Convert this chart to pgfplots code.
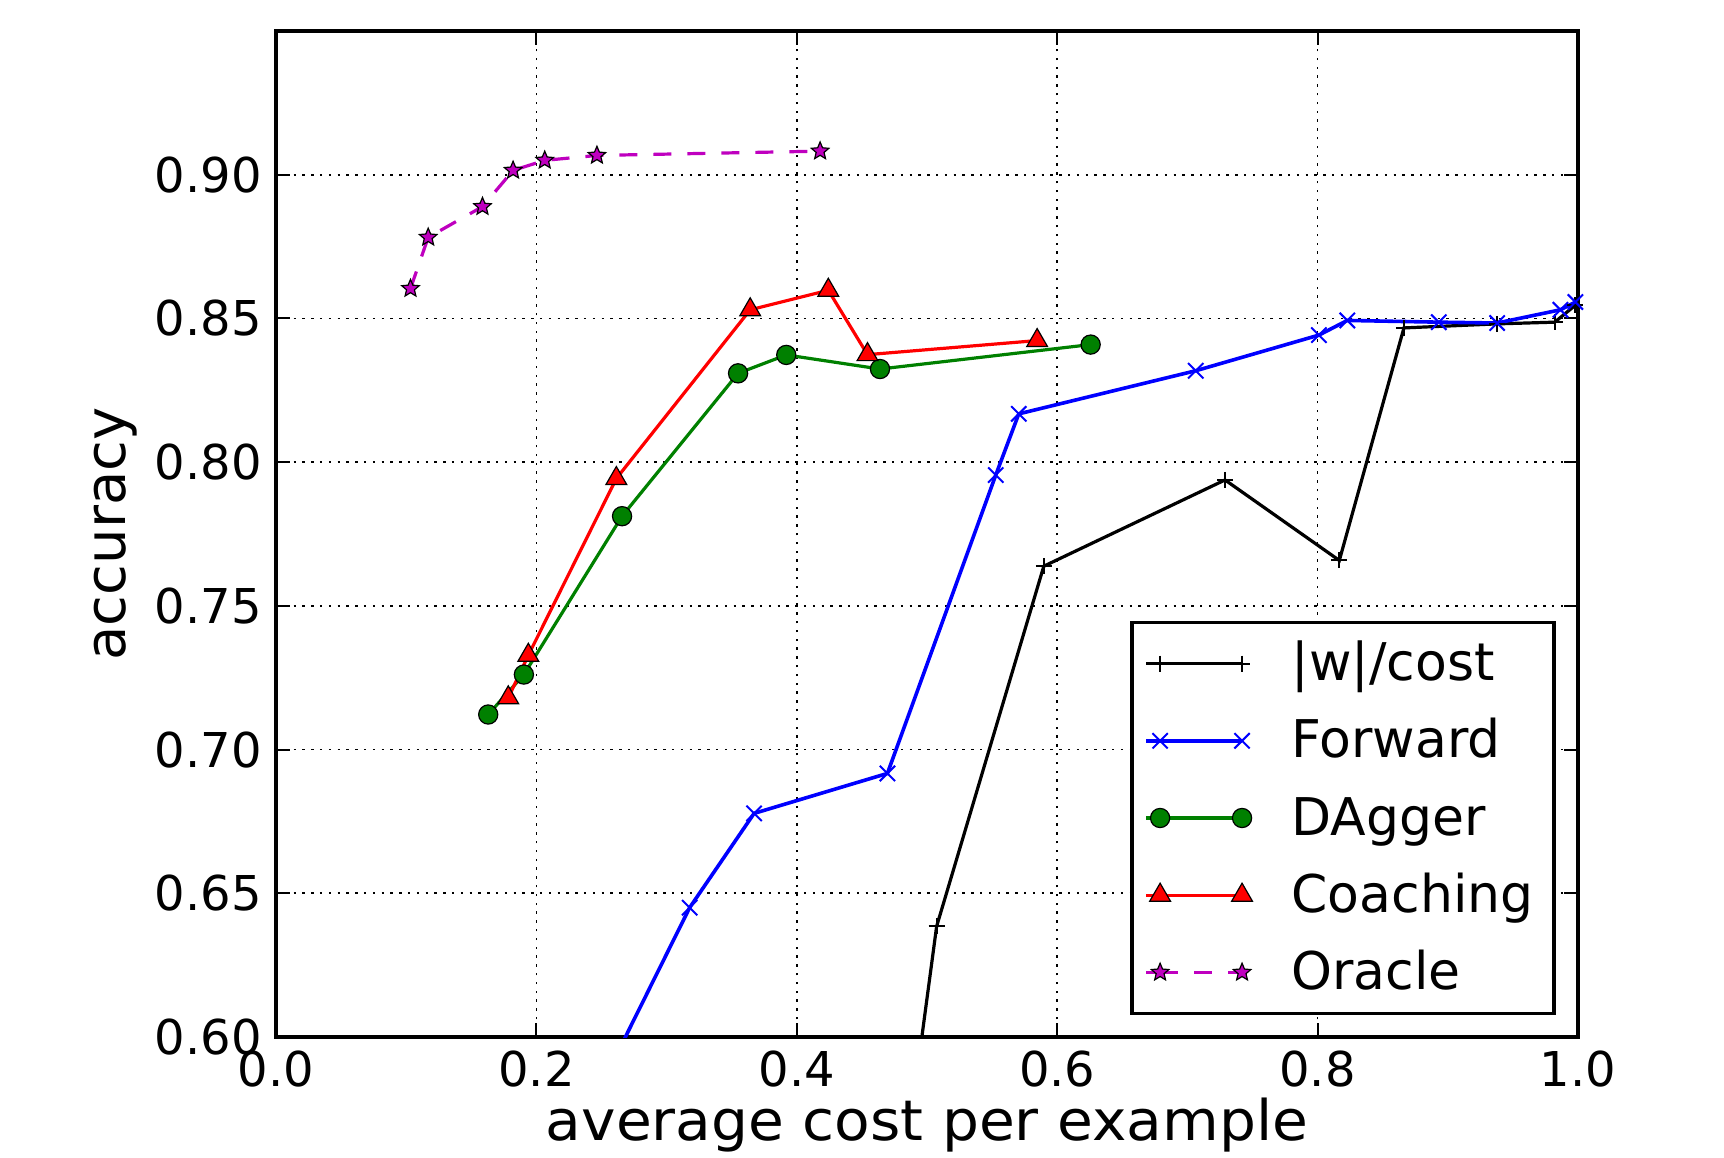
\documentclass[border=0pt]{standalone}
\usepackage{pgfplots}
\pgfplotsset{compat=1.18}
\usepackage{fontspec}
\setmainfont{DejaVu Sans}
\usetikzlibrary{plotmarks}
\definecolor{mplgreen}{rgb}{0,0.5,0}
\definecolor{mplmag}{rgb}{0.75,0,0.75}
\pgfdeclareplotmark{fstar}{%
  \pgfpathmoveto{\pgfpointpolar{90}{\pgfplotmarksize}}%
  \pgfpathlineto{\pgfpointpolar{126}{0.45\pgfplotmarksize}}%
  \pgfpathlineto{\pgfpointpolar{162}{\pgfplotmarksize}}%
  \pgfpathlineto{\pgfpointpolar{198}{0.45\pgfplotmarksize}}%
  \pgfpathlineto{\pgfpointpolar{234}{\pgfplotmarksize}}%
  \pgfpathlineto{\pgfpointpolar{270}{0.45\pgfplotmarksize}}%
  \pgfpathlineto{\pgfpointpolar{306}{\pgfplotmarksize}}%
  \pgfpathlineto{\pgfpointpolar{342}{0.45\pgfplotmarksize}}%
  \pgfpathlineto{\pgfpointpolar{18}{\pgfplotmarksize}}%
  \pgfpathlineto{\pgfpointpolar{54}{0.45\pgfplotmarksize}}%
  \pgfpathclose
  \pgfusepathqfillstroke}
\begin{document}
\begin{tikzpicture}
\path[use as bounding box] (-69pt,-30pt) rectangle (362pt,259.25pt);
\begin{axis}[
  scale only axis, width=325.5pt, height=251.5pt,
  xmin=0, xmax=1, ymin=0.6, ymax=0.95,
  xtick={0,0.2,0.4,0.6,0.8,1.0},
  ytick={0.60,0.65,0.70,0.75,0.80,0.85,0.90},
  xticklabel style={/pgf/number format/.cd, fixed, fixed zerofill, precision=1},
  yticklabel style={/pgf/number format/.cd, fixed, fixed zerofill, precision=2},
  /pgf/number format/assume math mode=true,
  tick label style={font=\fontsize{12}{14}\selectfont},
  tick align=inside, major tick length=3.5pt,
  tick style={black, line width=0.5pt},
  axis line style={line width=0.8pt},
  grid=major,
  major grid style={black, line width=0.4pt, dash pattern=on 0.6pt off 1.6pt},
  xlabel={average cost per example},
  ylabel={accuracy},
  label style={font=\fontsize{14}{16}\selectfont},
  xlabel style={at={(axis description cs:0.5,0)}, anchor=center, yshift=-22pt, xscale=1.04},
  ylabel style={at={(axis description cs:-0.123,0.5)}, anchor=center},
  legend cell align=left,
  legend image code/.code={\path (-3.5pt,0pt) -- (0pt,0pt);\draw[#1, mark repeat=1, mark phase=1] plot coordinates {(0cm,0cm) (0.72cm,0cm)};},
  legend style={at={(1,0)}, anchor=south east, xshift=-5.6pt, yshift=5.5pt,
    font=\fontsize{13}{15}\selectfont, draw=black, line width=0.8pt,
    inner xsep=3.1pt, inner ysep=3pt, row sep=4.8pt,
    nodes={inner sep=2pt, text height=9.5pt, text depth=1pt},
    /tikz/every odd column/.append style={column sep=7.8pt}},
]
\addplot[black, line width=0.8pt, mark=+, mark size=2pt, mark options={line width=0.5pt}] coordinates {
 (0.48,0.5456) (0.5074,0.6385) (0.5897,0.7638) (0.7289,0.7938) (0.8167,0.7658)
 (0.8663,0.8467) (0.9379,0.8481) (0.9821,0.8487) (0.998,0.8546)};
\addlegendentry{|w|/cost}
\addplot[blue, line width=0.9pt, mark=x, mark size=2.7pt, mark options={line width=0.5pt}] coordinates {
 (0.22,0.5559) (0.3177,0.6450) (0.3672,0.6778) (0.4696,0.6917) (0.5528,0.7955)
 (0.5705,0.8168) (0.7064,0.8318) (0.8010,0.8442) (0.8228,0.8493) (0.8931,0.8487)
 (0.9379,0.8484) (0.9865,0.8530) (0.998,0.8557)};
\addlegendentry{Forward}
\addplot[mplgreen, line width=0.8pt, mark=*, mark size=2.4pt, mark options={fill=mplgreen, draw=black, line width=0.3pt}] coordinates {
 (0.1630,0.7122) (0.1904,0.7261) (0.2658,0.7812) (0.3549,0.8309) (0.3919,0.8373)
 (0.4639,0.8324) (0.6257,0.8409)};
\addlegendentry{DAgger}
\addplot[red, line width=0.8pt, mark=triangle*, mark size=3pt, mark options={fill=red, draw=black, line width=0.3pt}] coordinates {
 (0.1784,0.7180) (0.1938,0.7328) (0.2614,0.7943) (0.3642,0.8530) (0.4242,0.8598)
 (0.4543,0.8374) (0.5846,0.8423)};
\addlegendentry{Coaching}
\addplot[mplmag, line width=0.8pt, dash pattern=on 4.5pt off 4pt, mark=fstar, mark size=2.3pt, mark options={solid, fill=mplmag, draw=black, line width=0.3pt}] coordinates {
 (0.1033,0.8604) (0.1169,0.8782) (0.1586,0.8889) (0.1821,0.9015) (0.2064,0.9050)
 (0.2465,0.9067) (0.4179,0.9082)};
\addlegendentry{Oracle}
\end{axis}
\end{tikzpicture}
\end{document}
